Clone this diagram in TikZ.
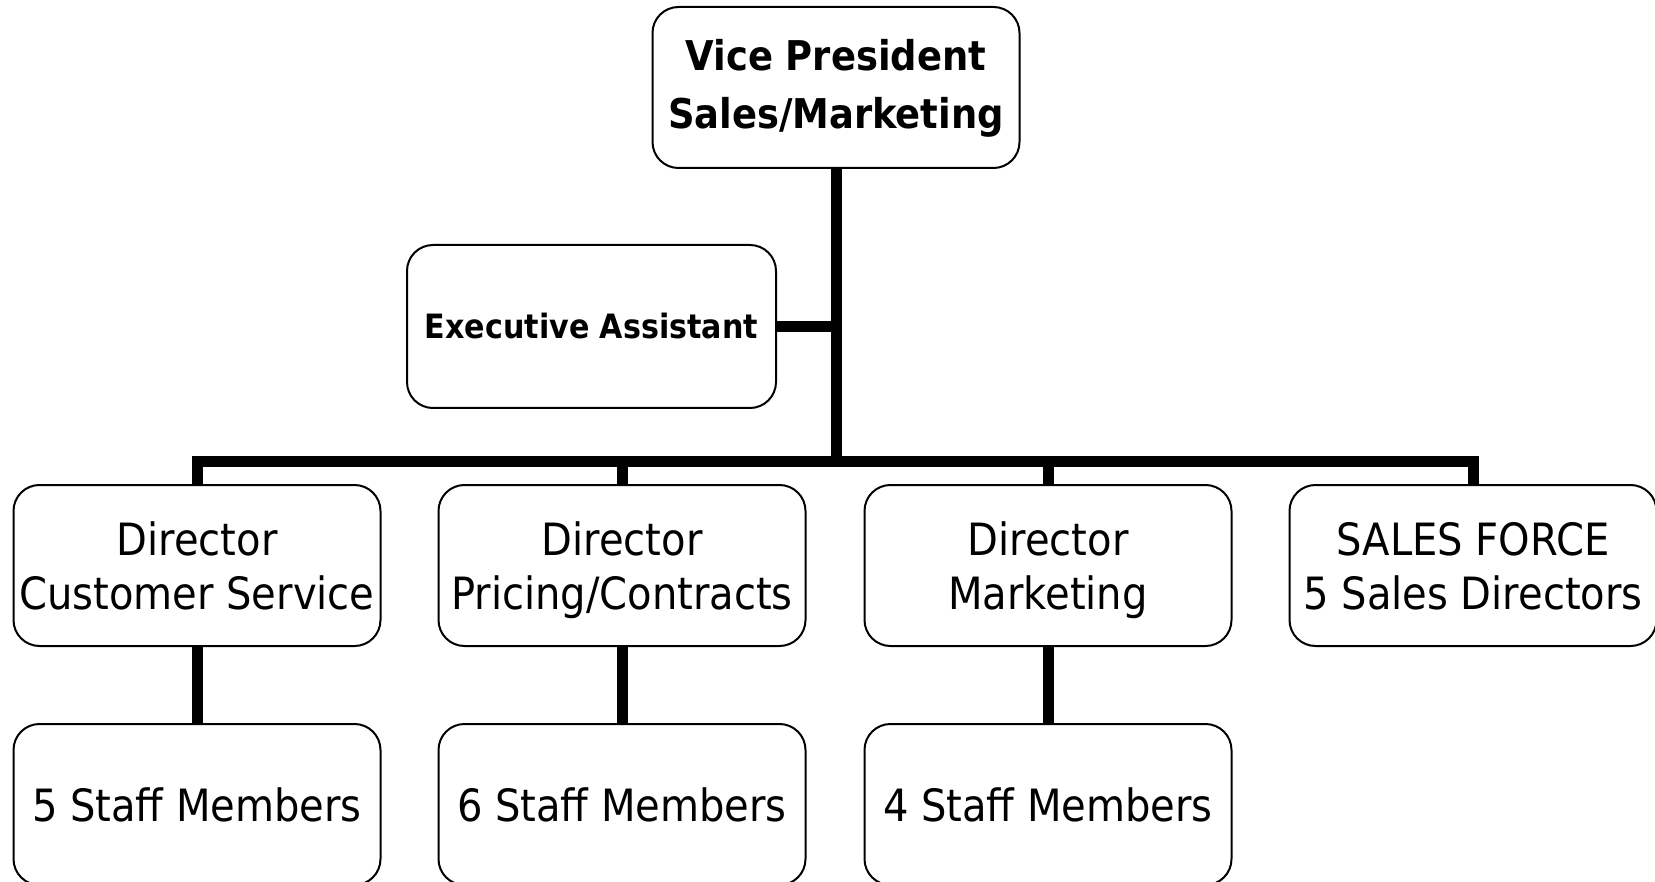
\documentclass[tikz,border=0pt]{standalone}
\usepackage{fontspec}
\setmainfont{DejaVu Sans Condensed}
\newcommand{\topstrut}{\rule{0pt}{49.8pt}}
\begin{document}
\begin{tikzpicture}[x=1pt,y=-1pt,
  box/.style={draw=black,line width=2pt,rounded corners=26pt,minimum width=367pt,minimum height=161pt,inner sep=0pt,align=center,fill=white},
  reg/.style={font=\fontsize{44.5}{54}\selectfont},
  conn/.style={line width=11pt,line join=miter,line cap=butt}]
\useasboundingbox (0,0) rectangle (1655,882);
\fill[white] (0,0) rectangle (1655,882);
\node[box,font=\bfseries\fontsize{41}{58}\selectfont] (vp) at (836,87.5) {\strut Vice President\\\strut Sales/Marketing};
\node[box,minimum width=369pt,minimum height=163pt,font=\bfseries\fontsize{33.5}{40}\selectfont] (ea) at (591.5,326.5) {Executive Assistant};
\node[box,reg] (d1) at (197,565.5) {\topstrut Director\\\strut Customer Service};
\node[box,reg] (d2) at (622,565.5) {\topstrut Director\\\strut Pricing/Contracts};
\node[box,reg] (d3) at (1048,565.5) {\topstrut Director\\\strut Marketing};
\node[box,reg] (d4) at (1473,565.5) {\topstrut SALES FORCE\\\strut 5 Sales Directors};
\node[box,reg] (s1) at (197,804.5) {5 Staff Members};
\node[box,reg] (s2) at (622,804.5) {6 Staff Members};
\node[box,reg] (s3) at (1048,804.5) {4 Staff Members};
\coordinate (bar) at (836,461);
\draw[conn] (vp.south) -- (vp.south |- bar);
\draw[conn] (ea.east) -- (ea.east -| vp.south);
\draw[conn] (d1.north) |- (bar) -| (d4.north);
\draw[conn] (d2.north) -- (d2.north |- bar);
\draw[conn] (d3.north) -- (d3.north |- bar);
\draw[conn] (d1.south) -- (s1.north);
\draw[conn] (d2.south) -- (s2.north);
\draw[conn] (d3.south) -- (s3.north);
\end{tikzpicture}
\end{document}
